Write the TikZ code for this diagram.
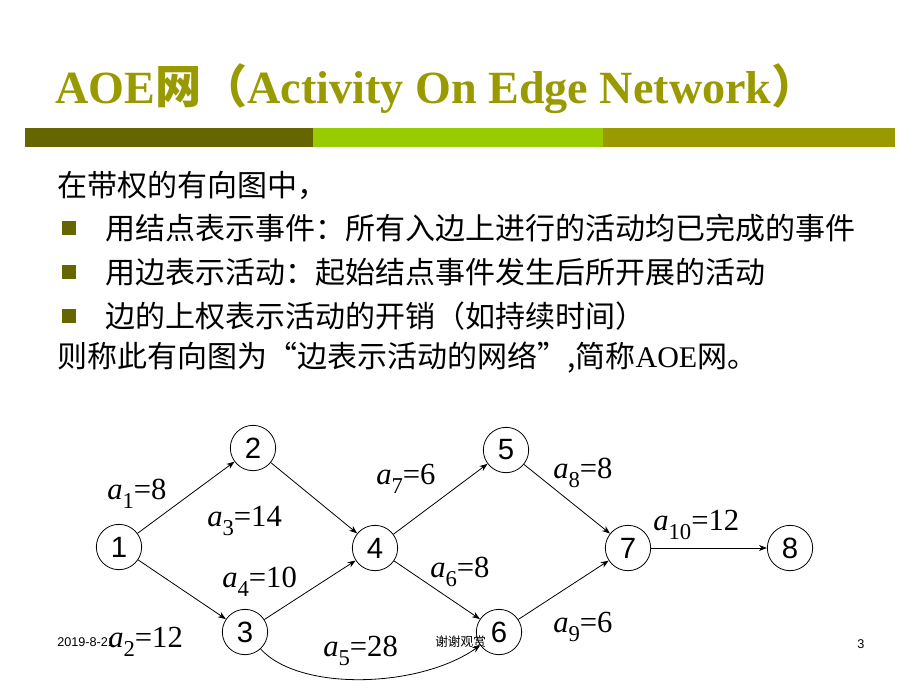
\documentclass[tikz,border=0pt]{standalone}
\usepackage{fontspec}
\setmainfont{Liberation Serif}
\newfontfamily\cjk{Noto Sans CJK SC}
\newfontfamily\arialf{Liberation Sans}
\usetikzlibrary{arrows.meta}
\definecolor{titlecol}{HTML}{999900}
\definecolor{barA}{HTML}{666600}
\definecolor{barB}{HTML}{99CC00}
\definecolor{barC}{HTML}{999900}
\definecolor{bulletcol}{HTML}{666600}
\newcommand\wlab[2]{\textit{a}\raisebox{-0.3em}{\fontsize{17}{17}\selectfont #1}=#2}
\tikzset{
  titletext/.style={anchor=base west, inner sep=0pt, text=titlecol, font=\bfseries\fontsize{34.6}{40}\selectfont},
  bodytext/.style={anchor=west, inner sep=0pt, font=\cjk\fontsize{22.5}{27}\selectfont},
  bulletbox/.style={fill=bulletcol, minimum size=10.5pt, inner sep=0pt},
  event/.style={circle, draw, line width=0.6pt, minimum size=34pt, inner sep=0pt, font=\arialf\fontsize{22}{22}\selectfont},
  edge/.style={line width=0.6pt, -{Stealth[length=6pt,width=4.5pt]}},
  wlabel/.style={anchor=base west, inner sep=0pt, font=\fontsize{23}{23}\selectfont},
  foot/.style={inner sep=0pt, font=\arialf\fontsize{9.5}{10}\selectfont}
}
\begin{document}
\begin{tikzpicture}[x=0.75pt,y=-0.75pt]
\fill[white] (0,0) rectangle (920,690);
\useasboundingbox (0,0) rectangle (920,690);
% title
\node[titletext] (title) at (55,103) {AOE{\cjk 网（}Activity On Edge Network{\cjk ）}};
% bar
\fill[barA] (25,128) rectangle (313,147);
\fill[barB] (313,128) rectangle (603,147);
\fill[barC] (603,128) rectangle (895,147);
% body
\node[bodytext] (l1) at (57,185) {在带权的有向图中，};
\node[bulletbox] (b2) at (69,228) {};
\node[bodytext] (l2) at (105,228) {用结点表示事件：所有入边上进行的活动均已完成的事件};
\node[bulletbox] (b3) at (69,272) {};
\node[bodytext] (l3) at (105,272) {用边表示活动：起始结点事件发生后所开展的活动};
\node[bulletbox] (b4) at (69,316) {};
\node[bodytext] (l4) at (105,316) {边的上权表示活动的开销（如持续时间）};
\node[bodytext] (l5) at (57,358) {则称此有向图为“边表示活动的网络”,简称{\rmfamily AOE}网。};
% footer
\node[foot, anchor=base west] (date) at (57,646) {2019-8-21};
\node[foot, anchor=base west] (thanks) at (435,646) {\cjk 谢谢观赏};
\node[foot, anchor=base west] (pg) at (857,648) {3};
% graph
\node[event] (n1) at (119,547) {1};
\node[event] (n2) at (253,448) {2};
\node[event] (n3) at (245,632) {3};
\node[event] (n4) at (375,548) {4};
\node[event] (n5) at (506,450) {5};
\node[event] (n6) at (499,632) {6};
\node[event] (n7) at (628,548) {7};
\node[event] (n8) at (790,548) {8};
\draw[edge] (n1) -- (n2);
\draw[edge] (n1) -- (n3);
\draw[edge] (n2) -- (n4);
\draw[edge] (n3) -- (n4);
\draw[edge] (n3) .. controls (300,692) and (420,688) .. (n6);
\draw[edge] (n4) -- (n5);
\draw[edge] (n4) -- (n6);
\draw[edge] (n5) -- (n7);
\draw[edge] (n6) -- (n7);
\draw[edge] (n7) -- (n8);
% labels
\node[wlabel] (la1) at (107,499) {\wlab{1}{8}};
\node[wlabel] (la3) at (207,526) {\wlab{3}{14}};
\node[wlabel] (la4) at (222,587) {\wlab{4}{10}};
\node[wlabel] (la2) at (108,647) {\wlab{2}{12}};
\node[wlabel] (la5) at (323,656) {\wlab{5}{28}};
\node[wlabel] (la7) at (376,484) {\wlab{7}{6}};
\node[wlabel] (la6) at (430,577) {\wlab{6}{8}};
\node[wlabel] (la8) at (553,478) {\wlab{8}{8}};
\node[wlabel] (la9) at (553,632) {\wlab{9}{6}};
\node[wlabel] (la10) at (653,530) {\wlab{10}{12}};
\end{tikzpicture}
\end{document}
